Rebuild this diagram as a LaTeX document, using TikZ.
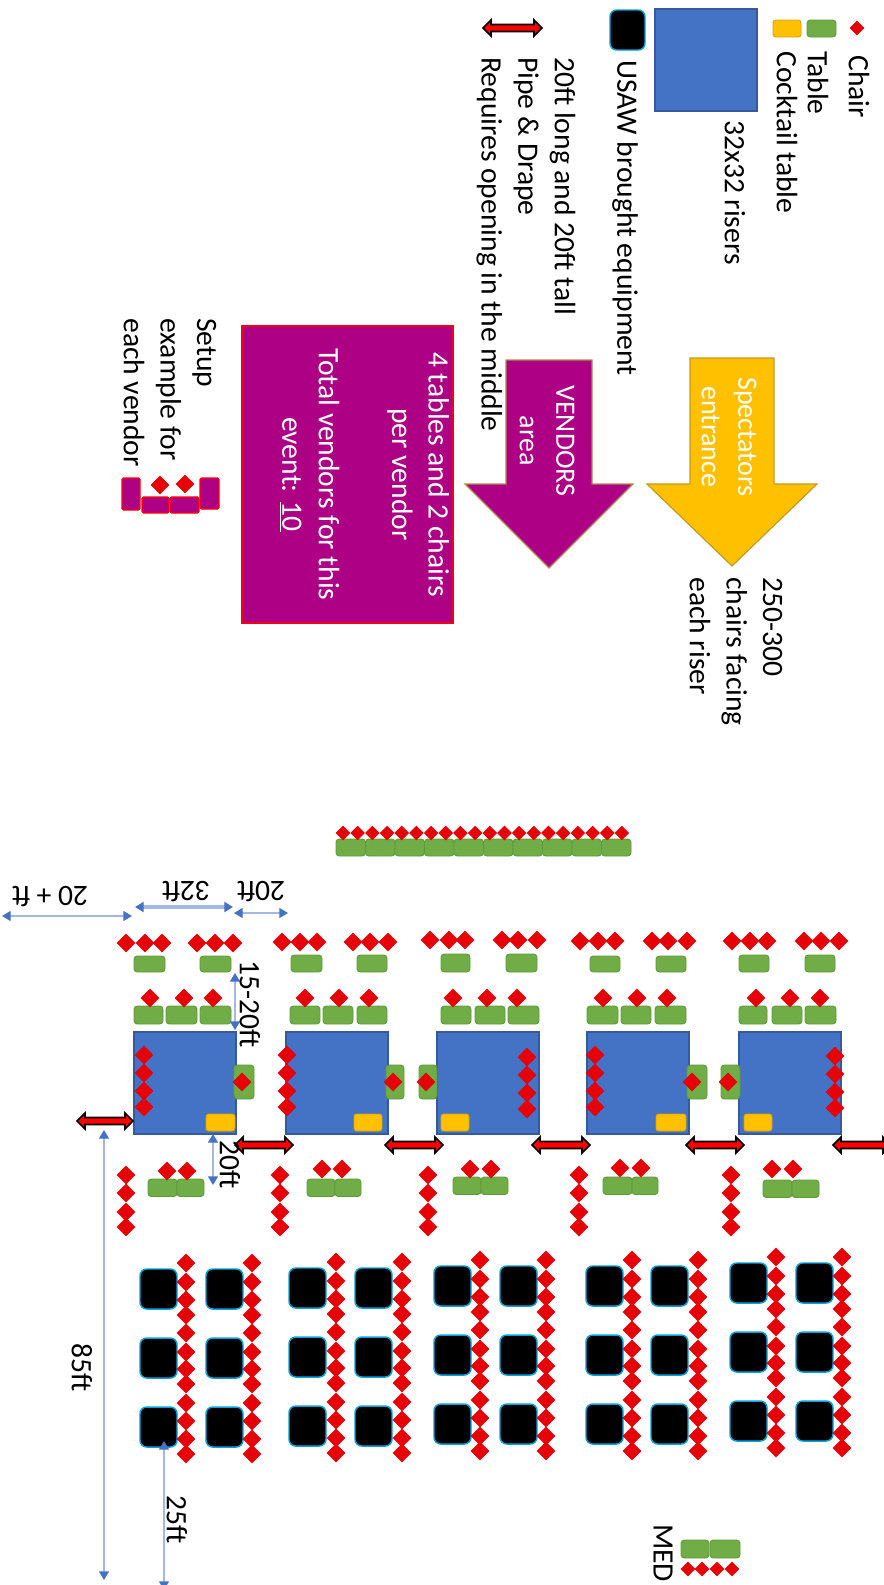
\documentclass[tikz,border=0pt]{standalone}
\usepackage{fontspec}
\setmainfont{Carlito}
\definecolor{chairc}{HTML}{E60008}
\definecolor{tablef}{HTML}{70AD47}
\definecolor{tabled}{HTML}{5E9A3A}
\definecolor{riserf}{HTML}{4472C4}
\definecolor{riserd}{HTML}{35599C}
\definecolor{cockf}{HTML}{FFC000}
\definecolor{cockd}{HTML}{D9A300}
\definecolor{vendf}{HTML}{AE0084}
\definecolor{vendd}{HTML}{B08A50}
\definecolor{specd}{HTML}{C49A20}
\definecolor{usawd}{HTML}{00A3E0}
\definecolor{dimline}{HTML}{A3B8E6}
\definecolor{dimhead}{HTML}{4472C4}
\usetikzlibrary{arrows.meta}
\tikzset{
  lbl/.style={inner sep=0pt,font=\fontsize{22.2pt}{27.4pt}\selectfont,align=left},
  downtext/.style={lbl,rotate=-90,anchor=west},
  downmid/.style={lbl,rotate=-90,anchor=center},
  flipped/.style={lbl,rotate=180,anchor=center},
  whitetext/.style={lbl,font=\fontsize{21pt}{27.4pt}\selectfont,rotate=-90,anchor=center,align=center,text=white},
  chairfill/.style={fill=chairc},
  tablebox/.style={fill=tablef,draw=tabled,line width=0.7pt,rounded corners=2.5pt},
  riserbox/.style={fill=riserf,draw=riserd,line width=0.8pt},
  cockbox/.style={fill=cockf,draw=cockd,line width=0.7pt,rounded corners=2pt},
  usawbox/.style={fill=black,draw=usawd,line width=1.1pt,rounded corners=5pt},
  pipearrow/.style={fill=red,draw=black,line width=1.3pt,line join=miter},
  dimarrow/.style={draw=dimline,line width=1pt,
    {Triangle[length=6.5pt,width=7.5pt,color=dimhead]}-{Triangle[length=6.5pt,width=7.5pt,color=dimhead]}},
  vendorbit/.style={fill=vendf,draw=red,line width=0.8pt,rounded corners=1pt},
}
% chair: large, and small for the legend, the long row and MED
\newcommand\chairat[2]{\fill[chairfill] (#1-9.4,#2)--(#1,#2-9.4)--(#1+9.4,#2)--(#1,#2+9.4)--cycle;}
\newcommand\smallchair[2]{\fill[chairfill] (#1-7.3,#2)--(#1,#2-7.3)--(#1+7.3,#2)--(#1,#2+7.3)--cycle;}
\newcommand\tbl[4]{\draw[tablebox] (#1,#2) rectangle (#3,#4);}
\newcommand\pipe[3]{\draw[pipearrow] (#1,#3)--(#1+8,#3-8)--(#1+8,#3-3.5)--(#2-8,#3-3.5)--(#2-8,#3-8)--(#2,#3)--(#2-8,#3+8)--(#2-8,#3+3.5)--(#1+8,#3+3.5)--(#1+8,#3+8)--cycle;}
\begin{document}
\begin{tikzpicture}[x=0.75pt,y=-0.75pt]
\useasboundingbox (0,0) rectangle (884,1585);
\clip (0,0) rectangle (884,1585);

% ---------- legend
\smallchair{857}{28}
\node[downtext] (tChair) at (859,55) {Chair};
\tbl{807}{20}{836}{37}
\node[downtext] (tTable) at (818,51) {Table};
\draw[cockbox] (773,20) rectangle (801,37);
\node[downtext] (tCock) at (787,51) {Cocktail table};
\draw[riserbox] (655,9) rectangle (757,111);
\node[downtext] (tRiser) at (735,120) {32x32 risers};
\draw[usawbox] (610,10) rectangle (645,50);
\node[downtext] (tUsaw) at (625,60) {USAW brought equipment};
\pipe{483}{542}{28}
\node[downtext] (tPipe) at (526,57) {20ft long and 20ft tall\\Pipe \& Drape\\Requires opening in the middle};

% ---------- block arrows
\draw[fill=cockf,draw=specd,line width=0.9pt] (690,358)--(774,358)--(774,484)--(817,484)--(732,566)--(647,484)--(690,484)--cycle;
\node[whitetext] (tSpec) at (729,437) {Spectators\\entrance};
\draw[fill=vendf,draw=vendd,line width=0.9pt] (506,360)--(592,360)--(592,484)--(633,484)--(549,568)--(465,484)--(506,484)--cycle;
\node[whitetext] (tVend) at (547,441) {VENDORS\\area};
\node[downtext] (tChairs) at (736,577) {250-300\\chairs facing\\each riser};

% ---------- vendor note
\node[rotate=-90,anchor=center,fill=vendf,draw=red!80!vendf,line width=0.9pt,
  minimum width=222.75pt,minimum height=158.25pt,inner sep=0pt,text=white,align=center,
  font=\fontsize{22.2pt}{27.4pt}\selectfont] (note) at (347.5,474.5)
  {4 tables and 2 chairs\\per vendor\\~\\Total vendors for this\\event: \underline{10}\\~};
\node[downtext] (tSetup) at (170,318) {Setup\\example for\\each vendor};
\draw[vendorbit] (122,478) rectangle (140,510);
\draw[vendorbit] (200,478) rectangle (219,509);
\draw[vendorbit] (142,497) rectangle (169,513);
\draw[vendorbit] (170,497) rectangle (199,513);
\chairat{160}{485}
\chairat{185}{484}

% ---------- long row
\foreach \i in {0,...,9} {\tbl{336+29.5*\i}{839}{336+29.5*\i+29.5}{856}}
\foreach \i in {0,...,19} {\smallchair{343+14.68*\i}{833}}

% ---------- risers
\foreach \x in {134,286,437,587,739} {\draw[riserbox] (\x,1032) rectangle (\x+102,1134);}

% back chairs
\foreach \x in {126,145,162,197,215,233} {\chairat{\x}{943}}
\foreach \x in {282,300,317,353,370,388} {\chairat{\x}{942}}
\foreach \x in {430,449,465,502,518,537} {\chairat{\x}{940}}
\foreach \x in {580,598,615,652,668,687} {\chairat{\x}{941}}
\foreach \x in {732,750,767,804,821,839} {\chairat{\x}{941}}

% single tables
\tbl{134}{956}{165}{972}\tbl{200}{956}{231}{972}
\tbl{291}{955}{322}{972}\tbl{357}{955}{387}{972}
\tbl{441}{954}{470}{972}\tbl{506}{954}{537}{972}
\tbl{590}{956}{620}{972}\tbl{656}{956}{686}{972}
\tbl{739}{955}{769}{972}\tbl{805}{955}{835}{972}

% three-table rows
\foreach \a/\b in {134/163,166/197,200/231,290/320,323/353,357/387,441/471,475/505,508/539,587/618,621/651,655/686,739/767,772/802,805/836}
  {\tbl{\a}{1006}{\b}{1024}}
\foreach \x in {150,184,213,305,339,369,453,487,517,603,637,667,756,790,820} {\chairat{\x}{998}}

% side tables with chair
\foreach \a/\b/\c in {234/254/242,386/404/393,419/437/426,687/707/692,721/740/728}
  {\tbl{\a}{1065}{\b}{1099}\chairat{\c}{1082}}

% four chairs on each riser
\foreach \x/\d in {144/0,287/0,527/2,595/0,835/1}
  {\foreach \y in {1055,1073,1091,1107} {\chairat{\x}{\y+\d}}}

% cocktail tables
\foreach \a/\b in {206/235,354/382,441/469,656/686,744/772}
  {\draw[cockbox] (\a,1114) rectangle (\b,1131);}

% pipe and drape
\pipe{77}{133}{1121}
\pipe{235}{293}{1145}
\pipe{385}{443}{1145}
\pipe{532}{590}{1145}
\pipe{686}{744}{1145}
\pipe{833}{891}{1145}

% table pairs with chairs
\foreach \a/\m/\b/\t/\ca/\cb/\cy in {148/177/204/1179/167/187/1171,307/335/361/1179/322/342/1169,453/481/508/1177/470/491/1169,603/632/658/1177/620/641/1168,763/792/819/1180/772/793/1169}
  {\tbl{\a}{\t}{\m}{\t+17.5}\tbl{\m}{\t}{\b}{\t+17.5}\chairat{\ca}{\cy}\chairat{\cb}{\cy}}

% four chairs in a column
\foreach \x in {126,280,428,579,731}
  {\foreach \y in {1175,1193,1212,1227} {\chairat{\x}{\y}}}

% ---------- brought equipment with chair lines
\foreach \xa/\xb/\xc/\xd/\d in {140/206/186/252/0,289/355/336/402/-1,434/500/480/546/-3,586/651/632/698/-3,730/796/776/842/-6}{
  \foreach \y in {1269,1338,1407} {
    \draw[usawbox] (\xa,\y+\d) rectangle (\xa+37,\y+\d+40);
    \draw[usawbox] (\xb,\y+\d) rectangle (\xb+37,\y+\d+40);
  }
  \foreach \y in {1263,1282,1300,1315,1333,1352,1369,1384,1403,1421,1439,1454} {
    \chairat{\xc}{\y+\d}
    \chairat{\xd}{\y+\d}
  }
}

% ---------- dimensions
\coordinate (a1) at (2,916);   \coordinate (a2) at (132,916);
\coordinate (b1) at (135,907); \coordinate (b2) at (233,907);
\coordinate (c1) at (234,913); \coordinate (c2) at (288,913);
\coordinate (d1) at (235,973); \coordinate (d2) at (235,1030);
\coordinate (e1) at (213,1134);\coordinate (e2) at (213,1185);
\coordinate (f1) at (104,1130);\coordinate (f2) at (104,1580);
\coordinate (g1) at (164,1441);\coordinate (g2) at (164,1590);
\draw[dimarrow] (a1)--(a2);
\draw[dimarrow,line width=2.4pt] (b1)--(b2);
\draw[dimarrow] (c1)--(c2);
\draw[dimarrow] (d1)--(d2);
\draw[dimarrow] (e1)--(e2);
\draw[dimarrow] (f1)--(f2);
\draw[dimarrow] (g1)--(g2);
\node[flipped] (t20p) at (50,897) {20 + ft};
\node[flipped] (t32) at (186,892) {32ft};
\node[flipped] (t20a) at (261,892) {20ft};
\node[downmid] (t15) at (250,1004) {15-20ft};
\node[downmid] (t20b) at (230,1165) {20ft};
\node[downmid] (t85) at (82,1368) {85ft};
\node[downmid] (t25) at (177,1520) {25ft};

% ---------- MED
\tbl{681}{1540}{709}{1558}
\tbl{710}{1540}{740}{1558}
\foreach \x in {688,702,717,732} {\smallchair{\x}{1569}}
\node[downmid] (tMed) at (663,1553) {MED};
\end{tikzpicture}
\end{document}
